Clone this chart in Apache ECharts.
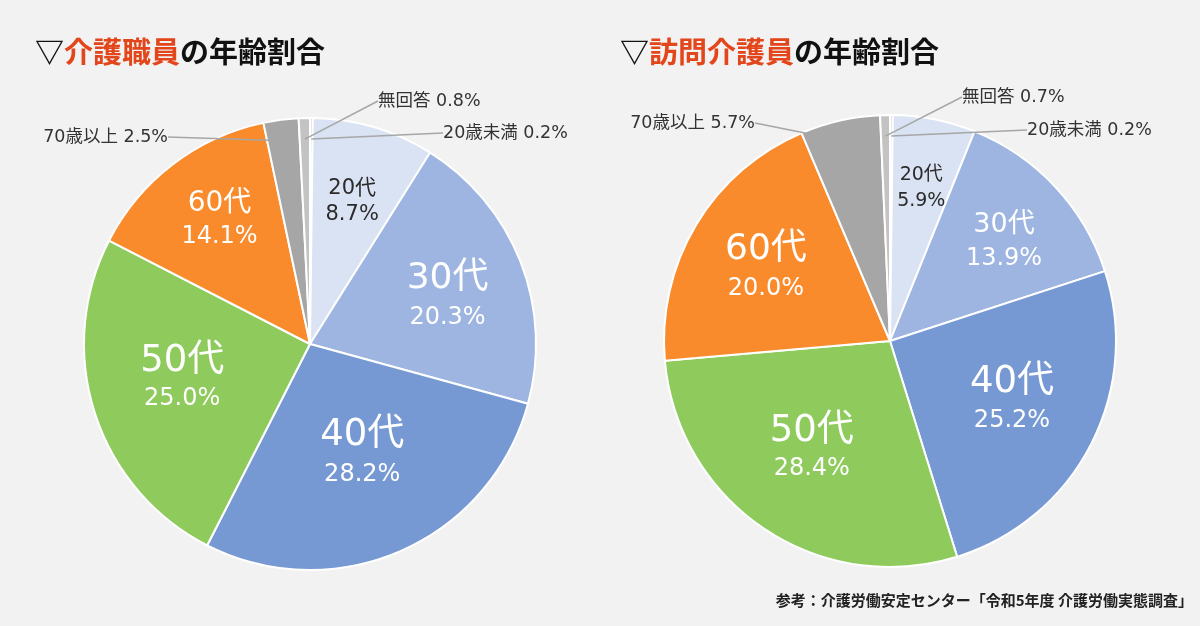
<!DOCTYPE html>
<html><head><meta charset="utf-8">
<script src="https://cdn.jsdelivr.net/npm/echarts@6/dist/echarts.min.js"></script>
<style>html,body{margin:0;padding:0;background:#f2f2f2}#main{width:1200px;height:626px}</style>
</head><body><div id="main"></div>
<script>
// ---- data ----
const categories = ['20歳未満', '20代', '30代', '40代', '50代', '60代', '70歳以上', '無回答'];
const careWorkerValues = [0.2, 8.7, 20.3, 28.2, 25.0, 14.1, 2.5, 0.8];   // 介護職員
const homeCareValues   = [0.2, 5.9, 13.9, 25.2, 28.4, 20.0, 5.7, 0.7];   // 訪問介護員
const titleLeft  = ['▽', '介護職員', 'の年齢割合'];
const titleRight = ['▽', '訪問介護員', 'の年齢割合'];
const sourceText = '参考：介護労働安定センター「令和5年度 介護労働実態調査」';

// ---- styling ----
const FONT = '"Noto Sans CJK JP", "Noto Sans", sans-serif';
const LABEL_FONT = '"DejaVu Sans", "Noto Sans CJK JP", sans-serif';
const sliceColors = ['#d4d4d4', '#dae3f3', '#9db5e0', '#7799d3', '#8fca5d', '#fa8b2c', '#a6a6a6', '#c3c3c3'];

const pieLayouts = [
  {
    values: careWorkerValues, center: [310, 344], radius: 226,
    inside: {
      '20代': { r: 151, da: -0.2, n: 21, p: 21, nLH: 26, pLH: 26, color: '#2b2b2b' },
      '30代': { r: 146, da: 1.7,  n: 36, p: 24, nLH: 48, pLH: 30, color: '#fff' },
      '40代': { r: 120, da: -2,   n: 37, p: 24, nLH: 50, pLH: 30, color: '#fff' },
      '50代': { r: 132, da: 3.4,  n: 37, p: 24, nLH: 46, pLH: 30, color: '#fff' },
      '60代': { r: 156, da: 1.9,  n: 28, p: 24, nLH: 36, pLH: 30, color: '#fff' }
    },
    outside: {
      '無回答':   { x: 374, y: 101, align: 'left' },
      '20歳未満': { x: 439, y: 133, align: 'left' },
      '70歳以上': { x: 172, y: 137, align: 'right' }
    }
  },
  {
    values: homeCareValues, center: [890, 341], radius: 226,
    inside: {
      '20代': { r: 159, da: 0,   n: 19, p: 19, nLH: 26, pLH: 26, color: '#2b2b2b' },
      '30代': { r: 153, da: 1.2, n: 27, p: 24, nLH: 38, pLH: 30, color: '#fff' },
      '40代': { r: 135, da: -2,  n: 37, p: 24, nLH: 46, pLH: 30, color: '#fff' },
      '50代': { r: 132, da: 2.5, n: 37, p: 24, nLH: 44, pLH: 30, color: '#fff' },
      '60代': { r: 145, da: 0.2, n: 36, p: 24, nLH: 48, pLH: 30, color: '#fff' }
    },
    outside: {
      '無回答':   { x: 958, y: 97, align: 'left' },
      '20歳未満': { x: 1023, y: 130, align: 'left' },
      '70歳以上': { x: 759, y: 123, align: 'right' }
    }
  }
];
const insideLabelNudgeY = 3;

function midAngle(values, i) {
  const total = values.reduce((a, b) => a + b, 0);
  let s = 0;
  for (let k = 0; k < i; k++) s += values[k];
  return (s + values[i] / 2) / total * 2 * Math.PI;
}
const pct = v => v.toFixed(1) + '%';

const series = [];
pieLayouts.forEach(L => {
  // main pie with inside labels
  series.push({
    type: 'pie', center: L.center, radius: [0, L.radius], startAngle: 90, clockwise: true,
    animation: false, avoidLabelOverlap: false, silent: true,
    itemStyle: { borderColor: '#ffffff', borderWidth: 2 },
    labelLine: { show: false },
    data: categories.map((c, i) => {
      const cfg = L.inside[c];
      return {
        name: c, value: L.values[i], itemStyle: { color: sliceColors[i] },
        label: cfg ? {
          show: true, position: 'inside',
          formatter: p => '{n|' + p.name + '}\n{p|' + pct(p.value) + '}',
          rich: {
            n: { fontSize: cfg.n, lineHeight: cfg.nLH, color: cfg.color, fontFamily: LABEL_FONT, align: 'center' },
            p: { fontSize: cfg.p, lineHeight: cfg.pLH, color: cfg.color, fontFamily: LABEL_FONT, align: 'center' }
          }
        } : { show: false }
      };
    }),
    labelLayout: params => {
      const c = categories[params.dataIndex];
      const cfg = L.inside[c];
      if (!cfg) return {};
      const a = midAngle(L.values, params.dataIndex) + cfg.da * Math.PI / 180;
      return {
        x: L.center[0] + cfg.r * Math.sin(a),
        y: L.center[1] - cfg.r * Math.cos(a) - (cfg.nLH - cfg.pLH) / 4 + insideLabelNudgeY,
        align: 'center', verticalAlign: 'middle'
      };
    }
  });
  // transparent overlay pie carrying the outside labels and leader lines
  series.push({
    type: 'pie', center: L.center, radius: [0, 205], startAngle: 90, clockwise: true,
    animation: false, avoidLabelOverlap: false, silent: true, z: 5,
    itemStyle: { color: 'rgba(0,0,0,0)', borderWidth: 0 },
    emphasis: { disabled: true },
    data: categories.map((c, i) => {
      const cfg = L.outside[c];
      return {
        name: c, value: L.values[i],
        label: cfg ? {
          show: true, position: 'outside',
          formatter: p => p.name + ' ' + pct(p.value),
          fontSize: 17.5, color: '#333333', fontFamily: LABEL_FONT, padding: [0, 4]
        } : { show: false },
        labelLine: cfg ? { show: true, length: 10, length2: 0, lineStyle: { color: '#a6a6a6', width: 1.5 } } : { show: false }
      };
    }),
    labelLayout: params => {
      const cfg = L.outside[categories[params.dataIndex]];
      if (!cfg) return {};
      return { x: cfg.x, y: cfg.y, align: cfg.align, verticalAlign: 'middle' };
    }
  });
});

function titleRich() {
  return {
    a: { fontSize: 29, fontWeight: 'bold', color: '#111111', fontFamily: FONT, lineHeight: 34 },
    b: { fontSize: 29, fontWeight: 'bold', color: '#e2461a', fontFamily: FONT, lineHeight: 34 }
  };
}

const option = {
  backgroundColor: '#f2f2f2',
  title: [
    { left: 30, top: 30, text: '{a|' + titleLeft[0] + '}{b|' + titleLeft[1] + '}{a|' + titleLeft[2] + '}', textStyle: { rich: titleRich() } },
    { left: 615, top: 30, text: '{a|' + titleRight[0] + '}{b|' + titleRight[1] + '}{a|' + titleRight[2] + '}', textStyle: { rich: titleRich() } },
    { right: 2, top: 585, text: sourceText, textStyle: { fontSize: 15, fontWeight: 'bold', color: '#222222', fontFamily: FONT, lineHeight: 20 } }
  ],
  series: series
};

const chart = echarts.init(document.getElementById('main'), null, { renderer: 'canvas' });
chart.setOption(option);
</script>
</body></html>
